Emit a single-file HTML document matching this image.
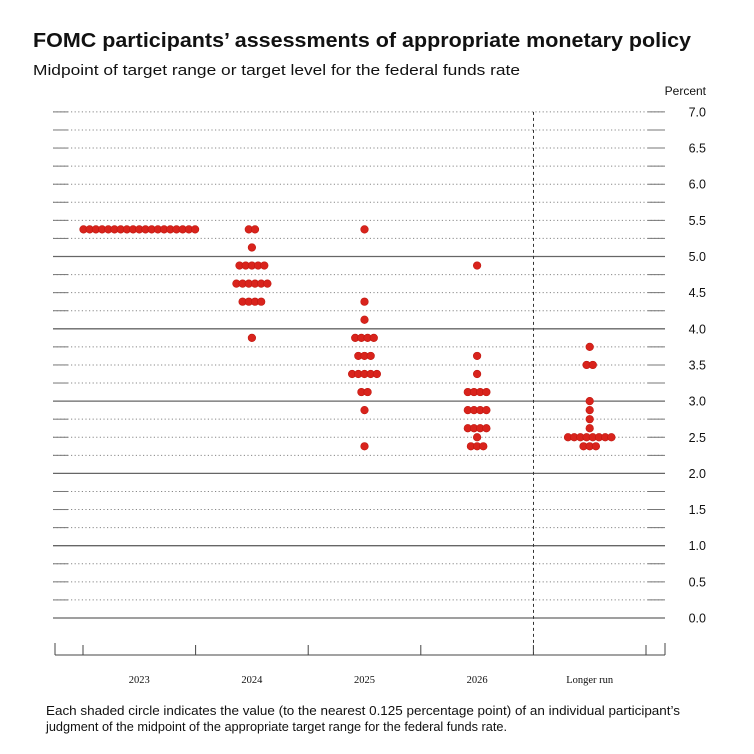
<!DOCTYPE html>
<html><head><meta charset="utf-8"><style>
body{margin:0;background:#fff;}
svg{display:block;font-family:"Liberation Sans",sans-serif;}
</style></head><body>
<svg id="chart" width="754" height="754" viewBox="0 0 754 754" xmlns="http://www.w3.org/2000/svg">
<rect width="754" height="754" fill="#fff"/>
<text x="33" y="47" font-size="20" font-weight="bold" fill="#111" textLength="658" lengthAdjust="spacingAndGlyphs">FOMC participants’ assessments of appropriate monetary policy</text>
<text x="33" y="75" font-size="15" fill="#111" textLength="487" lengthAdjust="spacingAndGlyphs">Midpoint of target range or target level for the federal funds rate</text>
<text x="706" y="95" font-size="12" fill="#111" text-anchor="end">Percent</text>
<g id="grid"></g>
<g id="ylabels"></g>
<g id="xaxis"></g>
<g id="dots"></g>
<text x="46" y="715" font-size="12.5" fill="#111" textLength="634" lengthAdjust="spacingAndGlyphs">Each shaded circle indicates the value (to the nearest 0.125 percentage point) of an individual participant’s</text>
<text x="46" y="731" font-size="12.5" fill="#111" textLength="461" lengthAdjust="spacingAndGlyphs">judgment of the midpoint of the appropriate target range for the federal funds rate.</text>
</svg>
<script>
const categories = ["2023","2024","2025","2026","Longer run"];
const dots2023 = [[5.375,19]];
const dots2024 = [[5.375,2],[5.125,1],[4.875,5],[4.625,6],[4.375,4],[3.875,1]];
const dots2025 = [[5.375,1],[4.375,1],[4.125,1],[3.875,4],[3.625,3],[3.375,5],[3.125,2],[2.875,1],[2.375,1]];
const dots2026 = [[4.875,1],[3.625,1],[3.375,1],[3.125,4],[2.875,4],[2.625,4],[2.5,1],[2.375,3]];
const dotsLonger = [[3.75,1],[3.5,2],[3.0,1],[2.875,1],[2.75,1],[2.625,1],[2.5,8],[2.375,3]];
const yTicks = ["0.0","0.5","1.0","1.5","2.0","2.5","3.0","3.5","4.0","4.5","5.0","5.5","6.0","6.5","7.0"];

const NS="http://www.w3.org/2000/svg";
const y = v => 618 - v*72.3;
const bandLeft = 83, bandW = 112.6;
const xc = i => bandLeft + bandW*i + bandW/2;
function mk(tag, attrs, parent){const e=document.createElementNS(NS,tag);for(const k in attrs)e.setAttribute(k,attrs[k]);parent.appendChild(e);return e;}
const grid=document.getElementById('grid');
for(let k=0;k<=28;k++){
  const v=k*0.25, yy=y(v);
  const solid = (k%4===0) && v<=5;
  const l=mk('line',{x1:53,x2:665,y1:yy,y2:yy,stroke:solid?'#666':'#888','stroke-width':solid?1.3:1,'stroke-dasharray':solid?'':'1.2 2.4'},grid);
  
  
  if(!solid){
    const a=mk('line',{x1:53,x2:68,y1:yy,y2:yy,stroke:'#777','stroke-width':1},grid);
    
    
    const b=mk('line',{x1:648,x2:665,y1:yy,y2:yy,stroke:'#777','stroke-width':1},grid);
    
    
  }
}
const yl=document.getElementById('ylabels');
yTicks.forEach(t=>{
  const e=mk('text',{x:706,y:y(parseFloat(t))+4.5,'font-size':12.5,fill:'#111','text-anchor':'end'},yl);
  e.textContent=t;
  
  
});
const xa=document.getElementById('xaxis');
const vd=mk('line',{x1:533.5,x2:533.5,y1:y(7),y2:655,stroke:'#333','stroke-width':1,'stroke-dasharray':'3 3'},xa);


const base=mk('line',{x1:55,x2:665,y1:655,y2:655,stroke:'#444','stroke-width':1},xa);


[[55,643],[665,643]].forEach(([x,t])=>{const e=mk('line',{x1:x,x2:x,y1:t,y2:655,stroke:'#444'},xa);});
for(let i=0;i<=5;i++){const x=bandLeft+bandW*i;const e=mk('line',{x1:x,x2:x,y1:645,y2:655,stroke:'#444'},xa);}
categories.forEach((c,i)=>{
  const e=mk('text',{x:xc(i),y:683,'font-size':10.5,'font-family':'Liberation Serif, serif',fill:'#111','text-anchor':'middle'},xa);
  e.textContent=c;
  
  
});
const dg=document.getElementById('dots');
const step=6.2;
[dots2023,dots2024,dots2025,dots2026,dotsLonger].forEach((arr,i)=>{
  arr.forEach(([v,n])=>{
    for(let j=0;j<n;j++){
      const cx=xc(i)+(j-(n-1)/2)*step;
      const d=mk('circle',{cx:cx,cy:y(v),r:3.8,fill:'#d9231c',stroke:'#c01810','stroke-width':0.6},dg);
      
      
    }
  });
});
</script>
</body></html>
